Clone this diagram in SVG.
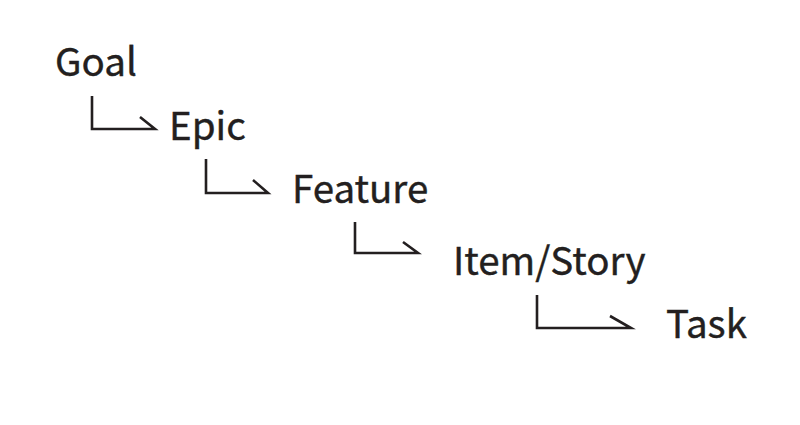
<svg xmlns="http://www.w3.org/2000/svg" width="800" height="425" viewBox="0 0 800 425">
<style>
text{font-family:"Noto Sans CJK SC","Noto Sans",sans-serif;font-size:38.5px;font-weight:400;fill:#231f20;stroke:#231f20;stroke-width:0.4}
.c path{fill:none;stroke:#231f20;stroke-width:2.6;stroke-linejoin:miter}
</style>
<rect width="800" height="425" fill="#ffffff"/>
<g id="goal"><text x="55" y="76">Goal</text></g>
<g id="epic"><text x="169" y="140">Epic</text></g>
<g id="feature"><text x="292" y="203">Feature</text></g>
<g id="item-story"><text x="453" y="275">Item/Story</text></g>
<g id="task"><text x="666" y="338">Task</text></g>
<g class="c" id="connectors">
<path d="M92,96 V129 H155 L140,117"/>
<path d="M206,159 V193 H268 L253,180"/>
<path d="M355,222 V253 H418 L403,242"/>
<path d="M537,295 V328 H631 L610,316"/>
</g>
</svg>
